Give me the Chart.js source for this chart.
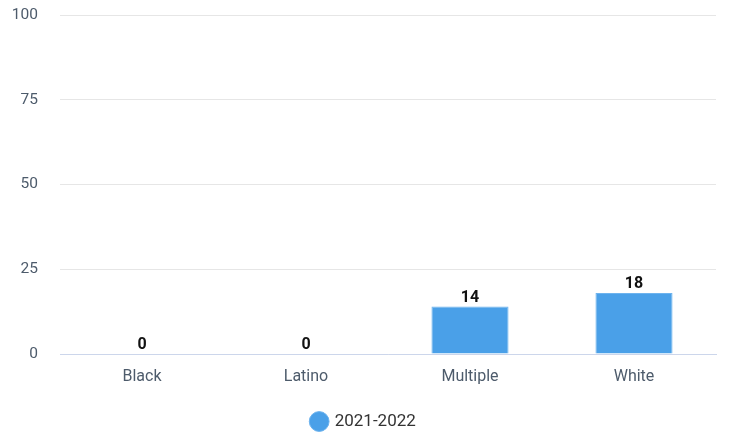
<!DOCTYPE html>
<html>
<head>
<meta charset="utf-8">
<script src="https://cdn.jsdelivr.net/npm/chart.js@4"></script>
<style>
  body { margin: 0; background: #fff; }
  #wrap { width: 739px; height: 434px; }
</style>
</head>
<body>
<div id="wrap"><canvas id="myChart"></canvas></div>
<script>
// categories and values
const categories = ['Black', 'Latino', 'Multiple', 'White'];
const seriesName = '2021-2022';
const seriesValues = [0, 0, 14, 18];
const yTicks = [0, 25, 50, 75, 100];

// draws the number above each bar
const barLabels = {
  id: 'barLabels',
  afterLayout(chart) {
    // legend sits a little right of the plot centre
    chart.legend.left = 12;
  },
  afterDatasetsDraw(chart) {
    const ctx = chart.ctx;
    const meta = chart.getDatasetMeta(0);
    ctx.save();
    ctx.font = 'bold 16px Roboto';
    ctx.fillStyle = '#111';
    ctx.textAlign = 'center';
    ctx.textBaseline = 'bottom';
    meta.data.forEach((bar, i) => {
      ctx.fillText(seriesValues[i], bar.x, bar.y - 1);
    });
    ctx.restore();
  }
};

const myChart = document.getElementById('myChart');

let barChart = new Chart(myChart, {
  type: 'bar',
  data: {
    labels: categories,
    datasets: [{
      label: seriesName,
      data: seriesValues,
      backgroundColor: '#4aa0e8',
      borderColor: '#6db3ee',
      borderWidth: 1,
      barPercentage: 0.47,
      categoryPercentage: 1
    }]
  },
  options: {
    responsive: true,
    maintainAspectRatio: false,
    animation: false,
    layout: { padding: { left: 0, right: 23, top: 0, bottom: -6 } },
    plugins: {
      tooltip: { enabled: false },
      legend: {
        position: 'bottom',
        labels: {
          usePointStyle: true,
          pointStyle: 'circle',
          boxWidth: 14,
          boxHeight: 14,
          padding: 5,
          color: '#333',
          font: { family: 'Roboto', size: 17 }
        }
      }
    },
    scales: {
      x: {
        grid: { display: false, drawTicks: false },
        border: { color: '#ccd6eb', width: 1 },
        afterFit(axis) { axis.height = 54; },
        ticks: {
          color: '#4d5b6b',
          padding: 13,
          font: { family: 'Roboto', size: 16 }
        }
      },
      y: {
        min: 0,
        max: 100,
        afterBuildTicks(axis) {
          axis.ticks = yTicks.map(v => ({ value: v }));
        },
        // fixed width, and the tick padding should not push the top down
        afterFit(axis) {
          axis.width = 60;
          axis.paddingTop = 15;
        },
        grid: { color: '#e6e6e6', drawTicks: false },
        border: { display: false },
        ticks: {
          color: '#4d5b6b',
          padding: 22,
          font: { family: 'Roboto', size: 15.5 }
        }
      }
    }
  },
  plugins: [barLabels]
});
</script>
</body>
</html>
